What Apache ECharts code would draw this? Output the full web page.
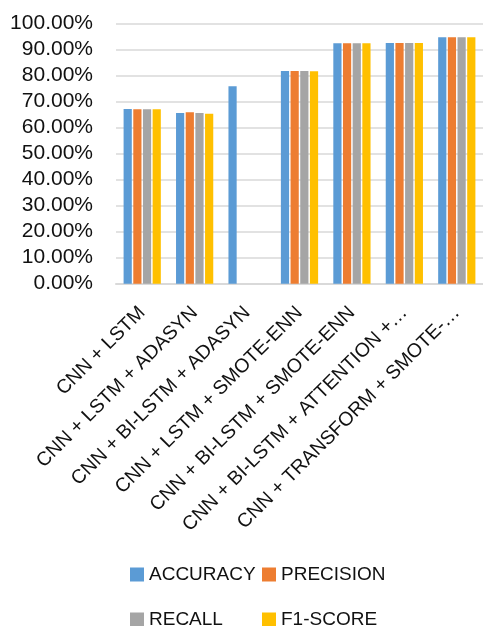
<!DOCTYPE html>
<html>
<head>
<meta charset="utf-8">
<script src="https://cdn.jsdelivr.net/npm/echarts@6/dist/echarts.min.js"></script>
<style>
  html, body { margin: 0; padding: 0; background: #fff; }
  #chart { width: 483px; height: 626px; }
</style>
</head>
<body>
<div id="chart"></div>
<script>
// Model variants compared on the x axis
const categories = [
  'CNN + LSTM',
  'CNN + LSTM + ADASYN',
  'CNN + BI-LSTM + ADASYN',
  'CNN + LSTM + SMOTE-ENN',
  'CNN + BI-LSTM + SMOTE-ENN',
  'CNN + BI-LSTM + ATTENTION +…',
  'CNN + TRANSFORM + SMOTE-…'
];

// Scores as fractions (null = not reported)
const accuracy  = [0.671, 0.656, 0.758, 0.817, 0.923, 0.924, 0.946];
const precision = [0.670, 0.658, null,  0.817, 0.923, 0.924, 0.946];
const recall    = [0.670, 0.656, null,  0.817, 0.923, 0.924, 0.946];
const f1score   = [0.670, 0.653, null,  0.816, 0.923, 0.924, 0.946];

const seriesNames = ['ACCURACY', 'PRECISION', 'RECALL', 'F1-SCORE'];
const seriesData = [accuracy, precision, recall, f1score];
const colors = ['#5B9BD5', '#ED7D31', '#A5A5A5', '#FFC000'];

const FONT = '"Liberation Sans", Arial, sans-serif';
const TEXT = '#111';

const chart = echarts.init(document.getElementById('chart'), null, { renderer: 'canvas' });

// one legend per entry so the two columns line up
const legendPos = [
  { left: 130, top: 565 },
  { left: 262, top: 565 },
  { left: 130, top: 610 },
  { left: 262, top: 610 }
];

const option = {
  backgroundColor: '#fff',
  animation: false,
  color: colors,
  textStyle: { fontFamily: FONT },
  legend: seriesNames.map((n, i) => ({
    data: [n],
    left: legendPos[i].left,
    top: legendPos[i].top,
    padding: 0,
    itemWidth: 14,
    itemHeight: 14,
    itemGap: 0,
    icon: 'rect',
    textStyle: { fontFamily: FONT, fontSize: 19, color: TEXT },
    selectedMode: false
  })),
  grid: { left: 116, top: 23.3, width: 370, height: 260.4, containLabel: false },
  xAxis: {
    type: 'category',
    data: categories,
    axisLine: { show: true, lineStyle: { color: '#d9d9d9', width: 2 } },
    axisTick: { show: false },
    axisLabel: {
      rotate: 45,
      interval: 0,
      margin: 26,
      fontFamily: FONT,
      fontSize: 19.5,
      color: TEXT
    }
  },
  yAxis: {
    type: 'value',
    min: 0,
    max: 1,
    interval: 0.1,
    axisLine: { show: false },
    axisTick: { show: false },
    splitLine: { lineStyle: { color: '#d9d9d9', width: 1.5 } },
    axisLabel: {
      margin: 23,
      fontFamily: FONT,
      fontSize: 21,
      color: TEXT,
      formatter: v => (v * 100).toFixed(2) + '%'
    }
  },
  series: seriesNames.map((n, i) => ({
    name: n,
    type: 'bar',
    data: seriesData[i],
    barWidth: 8.2,
    barGap: '18%',
    itemStyle: { color: colors[i] }
  }))
};

chart.setOption(option);
</script>
</body>
</html>
